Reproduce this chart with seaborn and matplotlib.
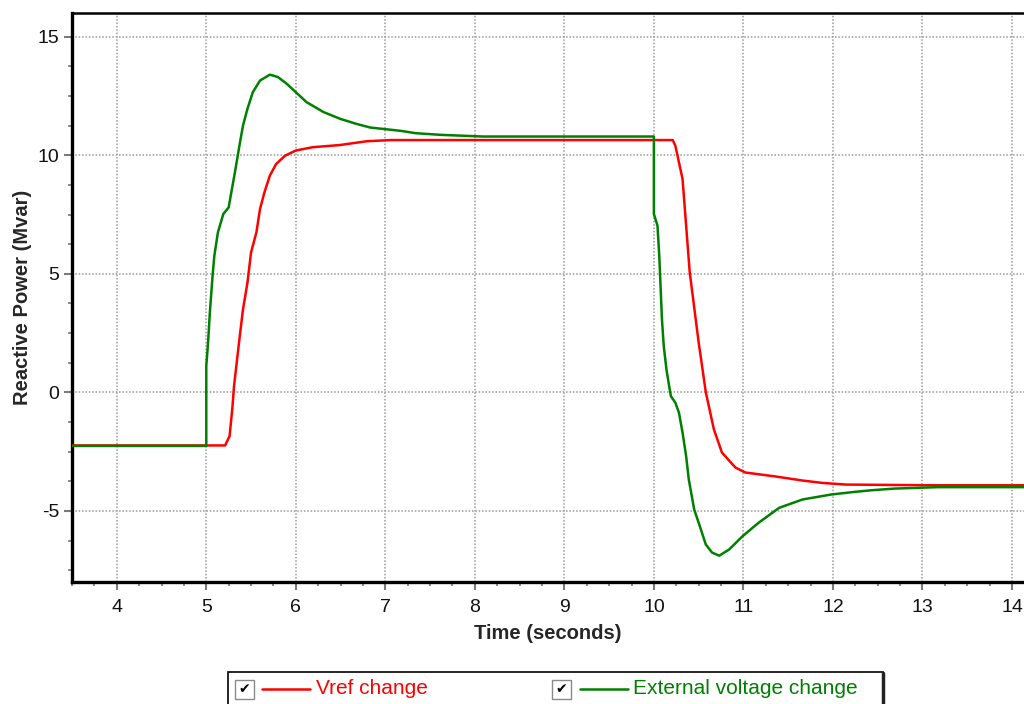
import numpy as np
import pandas as pd
import matplotlib
matplotlib.use("Agg")
import matplotlib.pyplot as plt
from matplotlib.ticker import MultipleLocator
from matplotlib.patches import Rectangle
from matplotlib.lines import Line2D
import seaborn as sns

# ---------------- data ----------------
vref_time = [3.5, 5.21, 5.26, 5.29, 5.31, 5.37, 5.41, 5.46, 5.50, 5.56, 5.60, 5.65,
             5.71, 5.78, 5.88, 6.00, 6.19, 6.49, 6.79, 7.06, 10.21, 10.24, 10.32,
             10.40, 10.50, 10.58, 10.67, 10.76, 10.91, 11.02, 11.36, 11.66, 11.88,
             12.14, 13.13, 14.2]
vref_q = [-2.24, -2.24, -1.85, -0.72, 0.27, 2.24, 3.5, 4.63, 5.9, 6.75, 7.73, 8.44,
          9.14, 9.63, 9.98, 10.2, 10.34, 10.43, 10.59, 10.64, 10.64, 10.4, 9.0,
          5.07, 2.11, 0.0, -1.56, -2.54, -3.17, -3.38, -3.55, -3.72, -3.82,
          -3.89, -3.92, -3.92]

ext_time = [3.5, 5.0, 5.0, 5.02, 5.04, 5.07, 5.09, 5.13, 5.19, 5.25, 5.28, 5.32, 5.37,
            5.41, 5.46, 5.52, 5.60, 5.71, 5.80, 5.90, 6.00, 6.12, 6.31, 6.50, 6.68,
            6.83, 7.0, 7.17, 7.34, 7.62, 8.09, 10.0, 10.0, 10.04, 10.06, 10.09,
            10.11, 10.14, 10.17, 10.19, 10.24, 10.28, 10.32, 10.36, 10.39, 10.45,
            10.50, 10.58, 10.65, 10.73, 10.84, 10.99, 11.17, 11.40, 11.66, 11.98,
            12.24, 12.43, 12.69, 13.17, 14.2]
ext_q = [-2.26, -2.26, 1.11, 2.1, 3.37, 4.9, 5.76, 6.75, 7.52, 7.8, 8.44, 9.28, 10.4,
         11.25, 11.96, 12.66, 13.15, 13.4, 13.3, 13.01, 12.66, 12.24, 11.82, 11.53, 11.32,
         11.17, 11.1, 11.03, 10.93, 10.86, 10.79, 10.79, 7.52, 7.03, 5.76, 3.08,
         1.96, 0.97, 0.27, -0.16, -0.44, -0.86, -1.7, -2.69, -3.68, -4.94,
         -5.5, -6.42, -6.76, -6.89, -6.63, -6.07, -5.5, -4.87, -4.52, -4.31,
         -4.2, -4.13, -4.06, -4.0, -4.0]

series_names = ["Vref change", "External voltage change"]
series_colors = ["#FF0000", "#008000"]
x_ticks = [4, 5, 6, 7, 8, 9, 10, 11, 12, 13, 14]
y_ticks = [-5, 0, 5, 10, 15]

# ---------------- style ----------------
sns.set_theme(style="white")
plt.rcParams["font.family"] = ["Liberation Sans", "DejaVu Sans"]
plt.rcParams["axes.unicode_minus"] = False

W, H = 1024, 704
fig = plt.figure(figsize=(W / 100, H / 100), dpi=100)
ax = fig.add_axes([72 / W, 1 - 582 / H, 1 - 72 / W, (582 - 13) / H])

df_v = pd.DataFrame({"t": vref_time, "q": vref_q})
df_e = pd.DataFrame({"t": ext_time, "q": ext_q})
sns.lineplot(data=df_v, x="t", y="q", ax=ax, color=series_colors[0], lw=1.8,
             estimator=None, sort=False, zorder=3)
sns.lineplot(data=df_e, x="t", y="q", ax=ax, color=series_colors[1], lw=1.8,
             estimator=None, sort=False, zorder=4)

ax.set_xlim(3.5, 14 + (1024 - 1012) / 89.4)
ax.set_ylim(-8.0, 16.0)
ax.set_xticks(x_ticks)
ax.set_yticks(y_ticks)
ax.xaxis.set_minor_locator(MultipleLocator(0.25))
ax.yaxis.set_minor_locator(MultipleLocator(1.25))

ax.grid(True, which="major", color="#9a9a9a", linestyle=(0, (1, 1.2)), lw=1.1)
ax.set_axisbelow(True)

for s in ["left", "bottom"]:
    ax.spines[s].set_color("black")
    ax.spines[s].set_linewidth(2.4)
ax.spines["top"].set_color("black")
ax.spines["top"].set_linewidth(1.8)
ax.spines["right"].set_visible(False)

ax.tick_params(axis="both", which="major", direction="out", length=6, width=1.5,
               color="#7a7a7a", labelsize=14, labelcolor="#111111")
ax.tick_params(axis="x", which="major", pad=6)
ax.tick_params(axis="y", which="major", pad=3)
ax.tick_params(axis="both", which="minor", direction="out", length=3, width=1.2,
               color="#7a7a7a")
ax.tick_params(axis="both", which="both", left=True, bottom=True, top=False, right=False)

ax.set_xlabel("Time (seconds)", fontsize=14.5, fontweight="bold", labelpad=6)
ax.set_ylabel("Reactive Power (Mvar)", fontsize=14.5, fontweight="bold", labelpad=4)

# ---------------- legend panel (drawn like the original control box) ----------------
def fx(px):
    return px / W

def fy(py):
    return 1 - py / H

box = Rectangle((fx(228), fy(708)), fx(883) - fx(228), fy(672) - fy(708),
                transform=fig.transFigure, facecolor="white", edgecolor="black",
                lw=1.2, zorder=10)
fig.patches.append(box)
fig.lines.append(Line2D([fx(883), fx(883)], [fy(673), fy(708)], transform=fig.transFigure,
                        color="#222222", lw=2.5, zorder=11))

entries = [(235, 262, 310, 316), (552, 580, 628, 633)]
for (cb, l0, l1, tx), name, col in zip(entries, series_names, series_colors):
    cbox = Rectangle((fx(cb), fy(699)), fx(cb + 19) - fx(cb), fy(680) - fy(699),
                     transform=fig.transFigure, facecolor="white", edgecolor="#8a8a8a",
                     lw=1.0, zorder=12)
    fig.patches.append(cbox)
    fig.text(fx(cb + 9.5), fy(689.5), "✔", transform=fig.transFigure, ha="center",
             va="center", fontsize=10, color="black", family=["DejaVu Sans"], zorder=13)
    fig.lines.append(Line2D([fx(l0), fx(l1)], [fy(689), fy(689)], transform=fig.transFigure,
                            color=col, lw=1.8, zorder=12))
    fig.text(fx(tx), fy(689), name, transform=fig.transFigure, ha="left", va="center",
             fontsize=15, color=col, zorder=13)

fig.savefig("out.png", dpi=100, facecolor="white")
